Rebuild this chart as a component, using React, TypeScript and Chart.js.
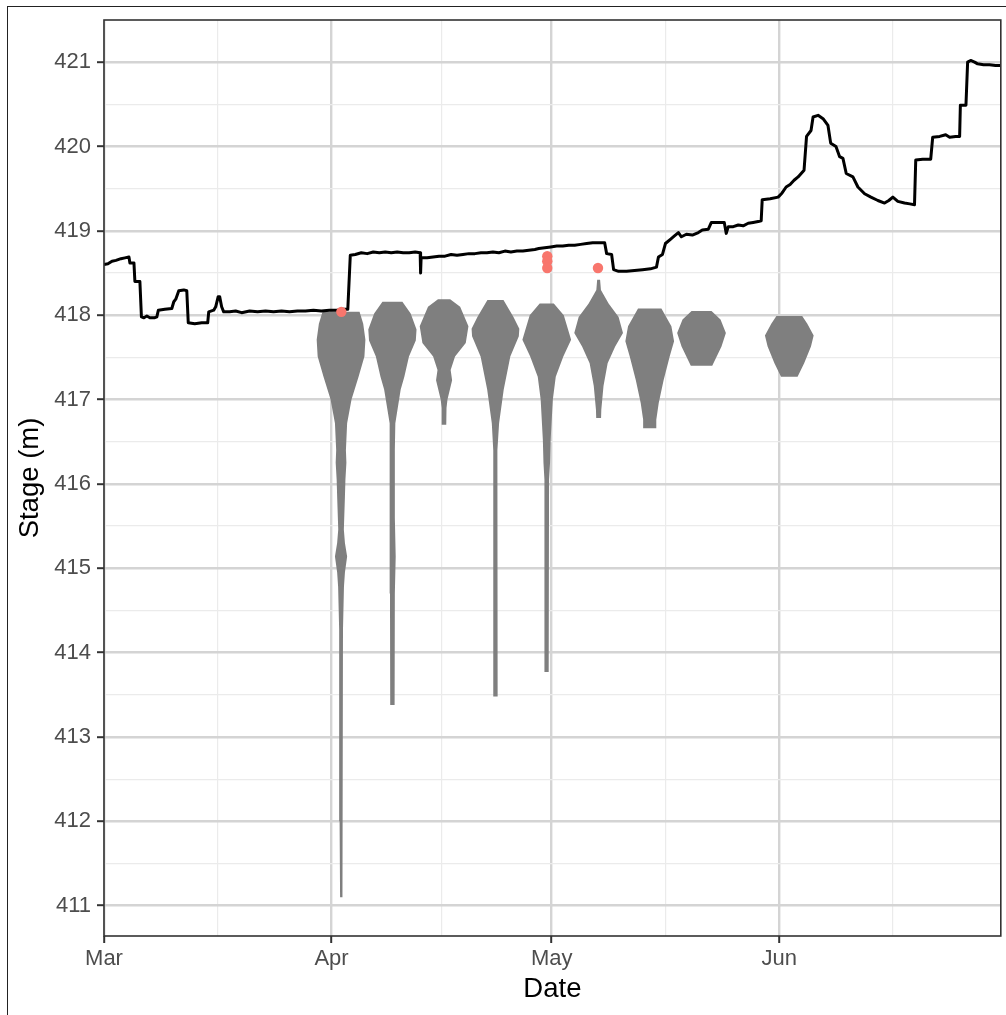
import React, { useEffect, useRef } from 'react';
import { Chart, registerables } from 'chart.js';

Chart.register(...registerables);

// ---- axis data ----
const MONTH_DAYS = [0, 31, 61, 92];
const MONTH_LABELS = ['Mar', 'Apr', 'May', 'Jun'];
const MONTH_MINOR_DAYS = [15.5, 46, 76.5, 107.5];
const X_MIN = 0;
const X_MAX = 122.2;
const Y_MAJOR = [411, 412, 413, 414, 415, 416, 417, 418, 419, 420, 421];
const Y_MINOR = [411.5, 412.5, 413.5, 414.5, 415.5, 416.5, 417.5, 418.5, 419.5, 420.5];
const Y_MIN = 410.64;
const Y_MAX = 421.5;

// ---- stage time series (days since 1 March, stage in m) ----
const LINE_DAYS = [
  0, 0.54, 1.09, 1.63, 2.31, 2.85, 3.4, 3.53, 4.08, 4.21, 4.89, 5.1, 5.44, 5.84, 6.25, 6.93, 7.2, 7.41, 8.29, 9.24,
  9.51, 9.78, 10.19, 10.87, 11.28, 11.48, 12.37, 13.32, 14.13, 14.27, 14.95, 15.22, 15.56, 15.76, 16.03, 16.31,
  17.12, 17.94, 18.75, 19.84, 20.93, 22.01, 23.1, 24.19, 25.28, 26.36, 27.45, 28.54, 29.62, 30.71, 31.8, 32.34,
  33.22, 33.56, 34.24, 35.06, 35.87, 36.69, 37.51, 38.32, 39.14, 39.95, 40.77, 41.58, 42.4, 43.08, 43.14, 43.21,
  44.03, 44.84, 45.66, 46.47, 47.29, 48.1, 48.92, 49.73, 50.55, 51.37, 52.18, 53.0, 53.81, 54.63, 55.44, 56.26,
  57.07, 57.89, 58.7, 59.25, 60.06, 60.88, 61.69, 62.51, 63.32, 64.14, 64.95, 65.77, 66.59, 67.4, 68.22, 68.49,
  69.17, 69.44, 70.12, 71.21, 72.29, 73.38, 74.47, 75.28, 75.55, 76.1, 76.5, 77.18, 77.73, 78.27, 78.68, 79.36,
  80.17, 80.99, 81.53, 82.35, 82.76, 83.71, 84.52, 84.79, 85.07, 85.75, 86.42, 87.1, 87.78, 88.46, 89.14, 89.55,
  89.69, 90.77, 91.86, 92.4, 92.95, 93.49, 94.03, 94.58, 95.39, 95.73, 96.34, 96.62, 97.3, 97.98, 98.65, 99.02,
  99.74, 100.24, 100.69, 101.14, 102.05, 102.73, 103.64, 104.5, 105.45, 106.36, 106.94, 107.49, 108.17, 109.08,
  109.8, 110.44, 110.61, 111.56, 112.65, 112.92, 113.87, 114.69, 115.23, 116.05, 116.59, 116.69, 117.45, 117.68,
  118.09, 118.63, 119.04, 119.85, 120.67, 121.48, 122.16,
];
const LINE_STAGE = [
  418.6, 418.61, 418.64, 418.65, 418.67, 418.68, 418.69, 418.62, 418.62, 418.4, 418.4, 417.98, 417.97, 417.99, 417.97,
  417.97, 417.98, 418.06, 418.07, 418.08, 418.16, 418.19, 418.29, 418.3, 418.29, 417.91, 417.9, 417.91, 417.91,
  418.04, 418.06, 418.1, 418.22, 418.22, 418.1, 418.04, 418.04, 418.05, 418.03, 418.05, 418.04, 418.05, 418.04,
  418.05, 418.04, 418.05, 418.05, 418.06, 418.05, 418.06, 418.06, 418.07, 418.07, 418.71, 418.72, 418.74, 418.73,
  418.75, 418.74, 418.75, 418.74, 418.75, 418.74, 418.74, 418.75, 418.74, 418.5, 418.68, 418.68, 418.69, 418.7,
  418.7, 418.72, 418.71, 418.72, 418.73, 418.73, 418.74, 418.74, 418.75, 418.74, 418.76, 418.75, 418.76, 418.76,
  418.77, 418.78, 418.79, 418.8, 418.81, 418.82, 418.82, 418.83, 418.83, 418.84, 418.85, 418.86, 418.86, 418.86,
  418.73, 418.72, 418.54, 418.52, 418.52, 418.53, 418.54, 418.55, 418.57, 418.69, 418.72, 418.85, 418.9, 418.94,
  418.98, 418.93, 418.96, 418.95, 418.98, 419.01, 419.02, 419.1, 419.1, 419.1, 418.97, 419.05, 419.05, 419.07,
  419.06, 419.09, 419.1, 419.11, 419.12, 419.37, 419.38, 419.4, 419.45, 419.52, 419.55, 419.6, 419.64, 419.72,
  420.12, 420.19, 420.35, 420.37, 420.33, 420.25, 420.04, 420.0, 419.88, 419.86, 419.68, 419.64, 419.52, 419.44,
  419.4, 419.36, 419.33, 419.36, 419.4, 419.35, 419.33, 419.32, 419.31, 419.84, 419.85, 419.85, 420.11, 420.12,
  420.14, 420.11, 420.12, 420.12, 420.49, 420.49, 421.0, 421.02, 421.0, 420.98, 420.97, 420.97, 420.96, 420.96,
];

// ---- highlighted (red) observations ----
const PEAK_DAYS = [32.34, 60.4, 60.4, 60.4, 67.31];
const PEAK_STAGE = [418.04, 418.7, 418.64, 418.56, 418.56];

// ---- weekly violins: centre day, stage levels (top -> bottom), relative density ----
const VIOLIN_DAYS = [32.3, 39.3, 46.34, 53.34, 60.33, 67.4, 74.36, 81.42, 93.38];

const V1_STAGE = [418.04, 417.9, 417.71, 417.51, 417.27, 417.0, 416.72, 416.4, 416.25, 416.05, 415.85, 415.46, 415.3, 415.14, 414.95, 414.78, 414.27, 413.09, 412.0, 411.1];
const V1_DENSITY = [0.76, 0.91, 1.0, 0.96, 0.72, 0.43, 0.25, 0.2, 0.22, 0.18, 0.16, 0.115, 0.16, 0.25, 0.16, 0.12, 0.08, 0.075, 0.06, 0.04];

const V2_STAGE = [418.16, 418.02, 417.83, 417.7, 417.51, 417.27, 417.12, 416.72, 416.4, 415.6, 415.14, 414.7, 413.38];
const V2_DENSITY = [0.41, 0.75, 0.99, 0.96, 0.68, 0.49, 0.34, 0.12, 0.1, 0.1, 0.135, 0.1, 0.09];

const V3_STAGE = [418.19, 418.1, 417.87, 417.67, 417.51, 417.35, 417.23, 417.0, 416.9, 416.7];
const V3_DENSITY = [0.25, 0.66, 1.0, 0.89, 0.45, 0.27, 0.33, 0.14, 0.1, 0.09];

const V4_STAGE = [418.18, 417.98, 417.84, 417.75, 417.51, 417.12, 416.72, 416.4, 415.58, 413.48];
const V4_DENSITY = [0.33, 0.74, 0.98, 0.96, 0.61, 0.34, 0.15, 0.08, 0.1, 0.08];

const V5_STAGE = [418.14, 418.0, 417.71, 417.51, 417.27, 417.0, 416.52, 416.25, 416.05, 413.77];
const V5_DENSITY = [0.29, 0.7, 1.0, 0.68, 0.37, 0.25, 0.16, 0.135, 0.095, 0.08];

const V6_STAGE = [418.42, 418.3, 418.14, 417.98, 417.79, 417.63, 417.43, 417.16, 416.88, 416.78];
const V6_DENSITY = [0.06, 0.095, 0.41, 0.82, 1.0, 0.68, 0.37, 0.2, 0.11, 0.1];

const V7_STAGE = [418.08, 417.87, 417.69, 417.51, 417.23, 416.96, 416.76, 416.66];
const V7_DENSITY = [0.48, 0.89, 1.0, 0.82, 0.57, 0.37, 0.27, 0.27];

const V8_STAGE = [418.05, 417.95, 417.79, 417.63, 417.4];
const V8_DENSITY = [0.41, 0.78, 1.0, 0.82, 0.44];

const V9_STAGE = [417.99, 417.9, 417.76, 417.63, 417.43, 417.27];
const V9_DENSITY = [0.53, 0.74, 1.0, 0.89, 0.61, 0.34];

const VIOLIN_STAGES = [V1_STAGE, V2_STAGE, V3_STAGE, V4_STAGE, V5_STAGE, V6_STAGE, V7_STAGE, V8_STAGE, V9_STAGE];
const VIOLIN_DENSITIES = [V1_DENSITY, V2_DENSITY, V3_DENSITY, V4_DENSITY, V5_DENSITY, V6_DENSITY, V7_DENSITY, V8_DENSITY, V9_DENSITY];

// ---- style ----
const FONT = "'Liberation Sans', Arial, Helvetica, sans-serif";
const VIOLIN_HALF_WIDTH_DAYS = 3.32;
const MAJOR_GRID = '#d4d4d4';
const MINOR_GRID = '#ebebeb';
const AXIS_DARK = '#333333';

function violinOutline(center: number, stages: number[], dens: number[]) {
  const right = stages.map((s, i) => ({ x: center + dens[i] * VIOLIN_HALF_WIDTH_DAYS, y: s }));
  const left = stages.map((s, i) => ({ x: center - dens[i] * VIOLIN_HALF_WIDTH_DAYS, y: s })).reverse();
  const poly = [...right, ...left];
  let k = 0;
  let r = 0;
  poly.forEach((p, i) => {
    if (p.x < poly[k].x) k = i;
    if (p.x > poly[r].x) r = i;
  });
  return [...poly.slice(k), ...poly.slice(0, k), poly[k], poly[r]];
}

const panelBorder = {
  id: 'panelBorder',
  afterDatasetsDraw(chart: any) {
    const { ctx, chartArea: a } = chart;
    ctx.save();
    ctx.strokeStyle = AXIS_DARK;
    ctx.lineWidth = 1.6;
    ctx.strokeRect(a.left, a.top, a.right - a.left, a.bottom - a.top);
    ctx.restore();
  },
};

export default function App() {
  const ref = useRef<HTMLCanvasElement>(null);

  useEffect(() => {
    if (!ref.current) return;
    Chart.defaults.font.family = FONT;

    const violinSets = VIOLIN_DAYS.map((c, i) => ({
      type: 'line' as const,
      data: violinOutline(c, VIOLIN_STAGES[i], VIOLIN_DENSITIES[i]),
      borderWidth: 0,
      borderColor: 'rgba(0,0,0,0)',
      backgroundColor: '#7f7f7f',
      fill: 'shape',
      pointRadius: 0,
      tension: 0,
      clip: false,
      order: 3,
    }));

    const chart = new Chart(ref.current, {
      type: 'line',
      data: {
        datasets: [
          {
            type: 'line',
            data: PEAK_DAYS.map((d, i) => ({ x: d, y: PEAK_STAGE[i] })),
            showLine: false,
            pointRadius: 5.2,
            pointBorderWidth: 0,
            pointBackgroundColor: '#F8766D',
            backgroundColor: '#F8766D',
            order: 1,
          },
          {
            type: 'line',
            data: LINE_DAYS.map((d, i) => ({ x: d, y: LINE_STAGE[i] })),
            borderColor: '#000000',
            borderWidth: 3,
            borderJoinStyle: 'round',
            pointRadius: 0,
            tension: 0,
            fill: false,
            order: 2,
          },
          ...violinSets,
        ] as any,
      },
      options: {
        responsive: false,
        maintainAspectRatio: false,
        animation: false,
        devicePixelRatio: 1,
        events: [],
        layout: { padding: { left: 0, top: 20, right: 3, bottom: 0 } },
        plugins: { legend: { display: false }, tooltip: { enabled: false } },
        scales: {
          x: {
            type: 'linear',
            min: X_MIN,
            max: X_MAX,
            afterBuildTicks: (s: any) => {
              s.ticks = [...MONTH_DAYS, ...MONTH_MINOR_DAYS].sort((a, b) => a - b).map((v) => ({ value: v }));
            },
            afterFit: (s: any) => {
              s.height = 79;
            },
            ticks: {
              autoSkip: false,
              maxRotation: 0,
              minRotation: 0,
              padding: 3,
              color: '#4d4d4d',
              font: { size: 22, family: FONT },
              callback: (v: any) => {
                const idx = MONTH_DAYS.indexOf(Number(v));
                return idx >= 0 ? MONTH_LABELS[idx] : '';
              },
            },
            grid: {
              color: (c: any) => (c.tick && MONTH_DAYS.includes(c.tick.value) ? MAJOR_GRID : MINOR_GRID),
              lineWidth: (c: any) => (c.tick && MONTH_DAYS.includes(c.tick.value) ? 2.4 : 1.2),
              tickColor: (c: any) => (c.tick && MONTH_DAYS.includes(c.tick.value) ? AXIS_DARK : 'rgba(0,0,0,0)'),
              tickWidth: 2,
              tickLength: 7,
              drawTicks: true,
            },
            border: { display: false },
            title: {
              display: true,
              text: 'Date',
              color: '#000000',
              font: { size: 27.5, family: FONT },
              padding: { top: 0, bottom: 9 },
            },
          },
          y: {
            type: 'linear',
            min: Y_MIN,
            max: Y_MAX,
            afterBuildTicks: (s: any) => {
              s.ticks = [...Y_MAJOR, ...Y_MINOR].sort((a, b) => a - b).map((v) => ({ value: v }));
            },
            afterFit: (s: any) => {
              s.width = 104;
            },
            ticks: {
              autoSkip: false,
              padding: 6,
              color: '#4d4d4d',
              font: { size: 22, family: FONT },
              callback: (v: any) => (Y_MAJOR.includes(Number(v)) ? String(v) : ''),
            },
            grid: {
              color: (c: any) => (c.tick && Y_MAJOR.includes(c.tick.value) ? MAJOR_GRID : MINOR_GRID),
              lineWidth: (c: any) => (c.tick && Y_MAJOR.includes(c.tick.value) ? 2.4 : 1.2),
              tickColor: (c: any) => (c.tick && Y_MAJOR.includes(c.tick.value) ? AXIS_DARK : 'rgba(0,0,0,0)'),
              tickWidth: 2,
              tickLength: 7,
              drawTicks: true,
            },
            border: { display: false },
            title: {
              display: true,
              text: 'Stage (m)',
              color: '#000000',
              font: { size: 27.5, family: FONT },
              padding: { top: 14, bottom: 0 },
            },
          },
        },
      } as any,
      plugins: [panelBorder],
    });

    return () => chart.destroy();
  }, []);

  return (
    <div
      style={{
        position: 'absolute',
        left: 0,
        top: 0,
        width: 1006,
        height: 1015,
        overflow: 'hidden',
        background: '#ffffff',
      }}
    >
      <canvas
        ref={ref}
        width={1006}
        height={1015}
        style={{ position: 'absolute', left: 0, top: 0, width: 1006, height: 1015 }}
      />
      <div
        style={{
          position: 'absolute',
          left: 7,
          top: 6,
          width: 1100,
          height: 1100,
          borderLeft: '1px solid #222',
          borderTop: '1px solid #222',
        }}
      />
    </div>
  );
}
